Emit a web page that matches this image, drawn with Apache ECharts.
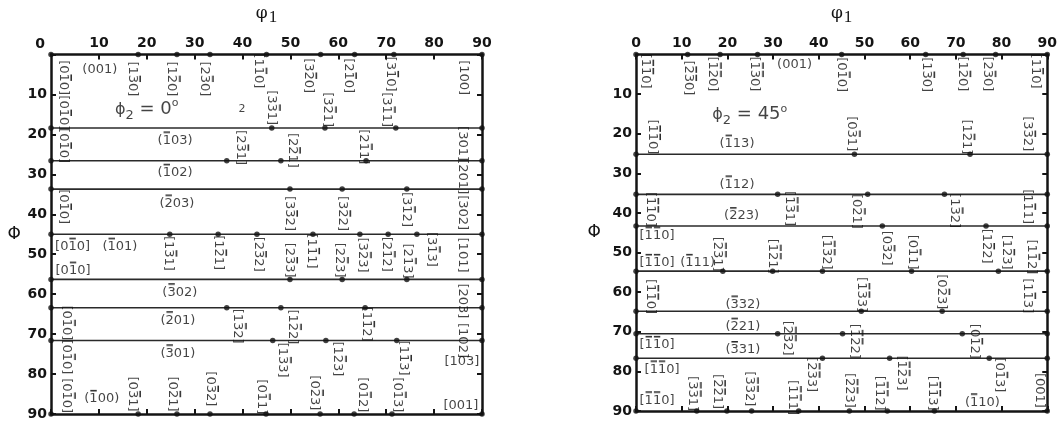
<!DOCTYPE html>
<html><head><meta charset="utf-8">
<script src="https://cdn.jsdelivr.net/npm/echarts@6/dist/echarts.min.js"></script>
<style>html,body{margin:0;padding:0;background:#fff}#c{width:1060px;height:421px}</style>
</head><body><div id="c"></div>
<script>
// ---------- data ----------
const TICK_LABELS = ['0','10','20','30','40','50','60','70','80','90'];

// Left panel: phi2 = 0
const L_LINES = [18.4, 26.6, 33.7, 45, 56.3, 63.4, 71.6];
const L_DOTS = [
  [0,0],[18.2,0],[26.3,0],[33.2,0],[45,0],[56.3,0],[63.4,0],[71.6,0],[90,0],
  [0,18.4],[46.1,18.4],[57.2,18.4],[72.0,18.4],[90,18.4],
  [0,26.6],[36.7,26.6],[48.0,26.6],[65.8,26.6],[90,26.6],
  [0,33.7],[49.9,33.7],[60.8,33.7],[74.3,33.7],[90,33.7],
  [0,45],[24.8,45],[34.9,45],[43.0,45],[54.7,45],[64.5,45],[70.4,45],[76.4,45],[90,45],
  [0,56.3],[49.9,56.3],[60.8,56.3],[74.3,56.3],[90,56.3],
  [0,63.4],[36.7,63.4],[48.0,63.4],[65.6,63.4],[90,63.4],
  [0,71.6],[46.3,71.6],[57.4,71.6],[72.2,71.6],[90,71.6],
  [0,90],[18.2,90],[26.3,90],[33.2,90],[44.9,90],[56.2,90],[63.3,90],[71.2,90],[90,90]
];
const L_VLABELS = [
  [2.5,5.8,'[0-10]'],[2.5,14.6,'[0-10]'],[2.5,22.8,'[0-10]'],[2.5,38.1,'[0-10]'],
  [3.3,67.2,'[0-10]'],[3.3,75.7,'[0-10]'],[3.3,85.4,'[0-10]'],
  [16.9,6.1,'[1-30]'],[25.2,6.1,'[1-20]'],[32.1,6.1,'[2-30]'],[43.3,4.1,'[1-10]'],
  [53.7,5.3,'[3-20]'],[62.0,5.3,'[2-10]'],[70.8,4.9,'[3-10]'],[86.2,5.8,'[100]'],
  [46.1,13.3,'[3-31]'],[57.8,13.8,'[3-21]'],[70.1,13.8,'[3-11]'],[86.0,22.3,'[301]'],
  [39.5,23.3,'[2-31]'],[50.3,24.0,'[2-21]'],[65.3,23.1,'[2-11]'],[86.0,30.6,'[201]'],
  [49.7,39.8,'[3-32]'],[60.8,39.8,'[3-22]'],[74.3,38.8,'[3-12]'],[86.0,39.6,'[302]'],
  [24.5,49.8,'[1-31]'],[34.9,49.6,'[1-21]'],[43.2,50.0,'[2-32]'],[49.7,51.5,'[2-33]'],
  [54.3,49.2,'[1-11]'],[60.3,51.5,'[2-23]'],[65.1,50.2,'[3-23]'],[70.1,50.0,'[2-12]'],
  [74.5,51.7,'[2-13]'],[79.5,48.8,'[3-13]'],[86.0,50.2,'[101]'],[86.0,61.7,'[203]'],
  [39.0,68.0,'[1-32]'],[50.5,68.2,'[1-22]'],[65.8,67.5,'[1-12]'],[86.0,71.6,'[102]'],
  [48.4,76.5,'[1-33]'],[59.9,76.2,'[1-23]'],[73.5,76.0,'[1-13]'],
  [16.9,85.0,'[0-31]'],[25.3,85.0,'[0-21]'],[33.2,83.7,'[0-32]'],[44.0,85.7,'[0-11]'],
  [55.1,84.7,'[0-23]'],[65.1,85.2,'[0-12]'],[72.4,85.2,'[0-13]']
];
const L_HLABELS = [
  [10.2,3.9,'(001)'],[25.9,21.5,'(-103)'],[25.9,29.6,'(-102)'],[26.3,37.3,'(-203)'],
  [4.5,48.1,'[0-10]'],[14.4,48.1,'(-101)'],[4.6,54.1,'[0-10]'],
  [26.9,59.5,'(-302)'],[26.5,66.5,'(-201)'],[26.5,74.8,'(-301)'],[10.6,86.2,'(-100)'],
  [85.8,76.9,'[103]'],[85.6,87.9,'[001]']
];
const L_TITLE = [[20.0,13.8,'0°'],[39.9,13.8,'2']];

// Right panel: phi2 = 45
const R_LINES = [25.2, 35.3, 43.3, 54.7, 64.8, 70.5, 76.7];
const R_DOTS = [
  [0,0],[11.3,0],[18.4,0],[26.6,0],[45,0],[63.4,0],[71.6,0],[78.7,0],[90,0],
  [0,25.2],[47.8,25.2],[73.1,25.2],[90,25.2],
  [0,35.3],[31.0,35.3],[50.7,35.3],[67.5,35.3],[90,35.3],
  [0,43.3],[53.9,43.3],[76.6,43.3],[90,43.3],
  [0,54.7],[19.0,54.7],[29.9,54.7],[40.8,54.7],[60.3,54.7],[79.3,54.7],[90,54.7],
  [0,64.8],[49.3,64.8],[67.0,64.8],[90,64.8],
  [0,70.5],[31.0,70.5],[45.2,70.5],[71.4,70.5],[90,70.5],
  [0,76.7],[40.8,76.7],[55.5,76.7],[77.3,76.7],[90,76.7],
  [0,90],[13.3,90],[19.9,90],[25.3,90],[35.6,90],[46.7,90],[55.0,90],[65.3,90],[90,90]
];
const R_VLABELS = [
  [2.0,4.2,'[-1-10]'],[11.4,5.9,'[-2-30]'],[16.8,4.9,'[-1-20]'],[26.0,4.9,'[-1-30]'],
  [45.0,5.1,'[0-10]'],[63.5,5.1,'[1-30]'],[71.4,4.9,'[1-20]'],[76.9,4.9,'[2-30]'],[87.3,4.2,'[1-10]'],
  [3.5,20.8,'[-1-10]'],[47.2,20.0,'[0-31]'],[72.3,20.8,'[1-21]'],[85.6,20.0,'[3-32]'],
  [3.1,39.1,'[-1-10]'],[33.6,38.9,'[-1-31]'],[48.3,39.6,'[0-21]'],[69.7,39.4,'[1-32]'],[85.6,38.4,'[1-11]'],
  [54.8,48.9,'[0-32]'],[76.6,48.4,'[1-22]'],
  [17.9,50.4,'[-2-31]'],[29.9,50.9,'[-1-21]'],[41.7,49.9,'[-1-32]'],[60.5,49.9,'[0-11]'],
  [81.0,49.9,'[1-23]'],[86.5,51.1,'[1-12]'],
  [3.1,61.1,'[-1-10]'],[49.3,60.6,'[-1-33]'],[66.8,59.9,'[0-23]'],[85.6,60.9,'[1-13]'],
  [33.2,71.6,'[-2-32]'],[47.8,72.4,'[-1-22]'],[74.0,72.4,'[0-12]'],
  [38.4,80.8,'[-2-33]'],[58.1,80.4,'[-1-23]'],[79.5,80.9,'[0-13]'],[88.2,84.8,'[001]'],
  [12.4,85.6,'[-3-31]'],[17.7,85.1,'[-2-21]'],[24.9,84.4,'[-3-32]'],[34.3,86.6,'[-1-11]'],
  [46.7,84.8,'[-2-23]'],[53.3,85.5,'[-1-12]'],[64.8,85.5,'[-1-13]']
];
const R_HLABELS = [
  [34.7,2.5,'(001)'],[22.1,22.5,'(-113)'],[22.1,32.8,'(-112)'],[23.1,40.8,'(-223)'],
  [4.6,45.7,'[-1-10]'],[4.6,52.6,'[-1-10]'],[13.5,52.6,'(-111)'],
  [23.4,63.1,'(-332)'],[23.4,68.7,'(-221)'],[4.6,73.3,'[-1-10]'],[23.4,74.6,'(-331)'],
  [5.7,79.5,'[-1-10]'],[4.6,87.3,'[-1-10]'],[75.8,87.8,'(-110)']
];
const R_TITLE = [[24.9,15.2,'45°']];

// ---------- build ----------
const FONT = 'DejaVu Sans';
const INK = '#141414';
const LH = 22;
const FS = 13;
const DIGIT_W = 0.636 * FS;

// small overbar image used as background of barred digits
const BAR_IMG = (function(){
  const c = document.createElement('canvas'); c.width = 9; c.height = LH;
  const g = c.getContext('2d'); g.fillStyle = INK; g.fillRect(1, 2.1, 7, 1.4); return c;
})();

function rich(s){
  let out = '', buf = '';
  for (let i = 0; i < s.length; i++){
    if (s[i] === '-' && /\d/.test(s[i+1] || '')){
      if (buf){ out += '{n|' + buf + '}'; buf = ''; }
      out += '{b|' + s[i+1] + '}'; i++;
    } else buf += s[i];
  }
  if (buf) out += '{n|' + buf + '}';
  return out;
}
const TXT = {fontFamily:FONT, fontSize:FS, color:INK, lineHeight:LH};
const RICH = {n: Object.assign({}, TXT), b: Object.assign({backgroundColor:{image:BAR_IMG}, width:DIGIT_W, height:LH, align:'center'}, TXT)};

function xAxes(gi, pos){
  return {
    gridIndex: gi, type:'value', min:0, max:90, interval:10, position: pos,
    axisLine:{show:true, onZero:false, lineStyle:{color:INK, width:2.5}},
    axisTick:{show:true, inside:true, length:5, lineStyle:{color:INK, width:2}},
    splitLine:{show:false},
    axisLabel: pos==='top' ? {show:true, margin:4, color:INK, fontFamily:FONT, fontWeight:'bold', fontSize:14,
      showMinLabel: gi===1, formatter: v => TICK_LABELS[Math.round(v/10)]} : {show:false},
    name: pos==='top' ? '{p|φ}{s|1}' : '',
    nameLocation:'middle', nameGap:28,
    nameTextStyle:{rich:{p:{fontFamily:'DejaVu Serif', fontSize:17, color:INK}, s:{fontFamily:'Liberation Serif', fontSize:17, color:INK, padding:[9,0,0,1]}}}
  };
}
function yAxes(gi, pos, gap){
  return {
    gridIndex: gi, type:'value', min:0, max:90, interval:10, inverse:true, position: pos,
    axisLine:{show:true, onZero:false, lineStyle:{color:INK, width:2.5}},
    axisTick:{show:true, inside:true, length:5, lineStyle:{color:INK, width:2}},
    splitLine:{show:false},
    axisLabel: pos==='left' ? {show:true, margin:4, color:INK, fontFamily:FONT, fontWeight:'bold', fontSize:14,
      showMinLabel: gi===0, formatter: v => v === 0 ? '{z|' + TICK_LABELS[0] + '}' : TICK_LABELS[Math.round(v/10)],
      rich:{z:{fontFamily:FONT, fontWeight:'bold', fontSize:14, color:INK, padding:[0,2,20,0]}}} : {show:false},
    name: pos==='left' ? 'Φ' : '',
    nameLocation:'middle', nameGap:gap, nameRotate:0,
    nameTextStyle:{fontFamily:FONT, fontSize:17, color:INK}
  };
}

function panel(gi, lines, dots, vl, hl, title){
  const ax = {xAxisIndex: gi*2, yAxisIndex: gi*2};
  const out = [];
  lines.forEach(p => out.push(Object.assign({type:'line', data:[[0,p],[90,p]], symbol:'none',
    lineStyle:{color:'#2a2a2a', width:1.6}, z:2, silent:true}, ax)));
  out.push(Object.assign({type:'scatter', data:dots, symbol:'circle', symbolSize:5.5,
    itemStyle:{color:'#111'}, z:4, silent:true}, ax));
  const lab = (rot) => ({show:true, position:'inside', rotate:rot, formatter: p => rich(p.name),
    rich: RICH, align:'center', verticalAlign:'middle'});
  out.push(Object.assign({type:'scatter', data: vl.map(d=>({value:[d[0],d[1]], name:d[2]})),
    symbolSize:1, itemStyle:{color:'rgba(0,0,0,0)'}, label:lab(-90), z:5, silent:true}, ax));
  out.push(Object.assign({type:'scatter', data: hl.map(d=>({value:[d[0],d[1]], name:d[2]})),
    symbolSize:1, itemStyle:{color:'rgba(0,0,0,0)'}, label:lab(0), z:5, silent:true}, ax));
  out.push(Object.assign({type:'scatter', data: title.map(d=>({value:[d[0],d[1]], name:d[2]})),
    symbolSize:1, itemStyle:{color:'rgba(0,0,0,0)'}, z:5, silent:true,
    label:{show:true, position:'inside', color:INK, fontFamily:FONT,
      formatter: p => p.name.length === 1 ? '{q|' + p.name + '}' : '{p|ϕ}{s|2}{t| = ' + p.name.replace('°','') + '}{o|o}',
      rich:{
        p:{fontFamily:FONT, fontSize:16, color:INK},
        s:{fontFamily:FONT, fontSize:13, color:INK, padding:[12,0,0,0]},
        t:{fontFamily:FONT, fontSize:18, color:INK},
        o:{fontFamily:FONT, fontSize:11, color:INK, padding:[0,0,12,0]},
        q:{fontFamily:FONT, fontSize:11, color:INK}
      }}}, ax));
  return out;
}

const chart = echarts.init(document.getElementById('c'), null, {renderer:'canvas'});
chart.setOption({
  animation:false,
  backgroundColor:'#fff',
  grid:[
    {left:51, top:43, width:431, height:371},
    {left:636, top:43, width:412, height:368}
  ],
  xAxis:[xAxes(0,'top'), xAxes(0,'bottom'), xAxes(1,'top'), xAxes(1,'bottom')],
  yAxis:[yAxes(0,'left',30), yAxes(0,'right',0), yAxes(1,'left',35), yAxes(1,'right',0)],
  series: panel(0, L_LINES, L_DOTS, L_VLABELS, L_HLABELS, L_TITLE)
    .concat(panel(1, R_LINES, R_DOTS, R_VLABELS, R_HLABELS, R_TITLE))
});
</script>
</body></html>
